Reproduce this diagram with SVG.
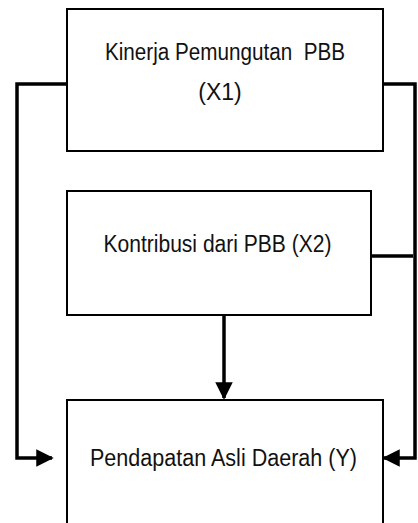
<svg xmlns="http://www.w3.org/2000/svg" width="418" height="523" viewBox="0 0 418 523">
<style>
.box{fill:#fff;stroke:#000;stroke-width:2}
.lbl{font-family:"Liberation Sans",Arial,sans-serif;font-size:23px;fill:#111;text-anchor:middle}
.con{fill:none;stroke:#000;stroke-width:3.5}
</style>
<defs>
<marker id="ah" markerWidth="5" markerHeight="5" refX="4.5" refY="2.5" orient="auto" markerUnits="strokeWidth">
<path d="M0,0 L5,2.5 L0,5 Z" fill="#000"/>
</marker>
</defs>
<g id="connectors">
<polyline class="con" points="67,84 17,84 17,458 52,458" marker-end="url(#ah)"/>
<polyline class="con" points="383,84 415,84 415,458 384,458" marker-end="url(#ah)"/>
<line class="con" x1="368" y1="256" x2="413" y2="256"/>
<line class="con" x1="224" y1="315" x2="224" y2="398" marker-end="url(#ah)"/>
</g>
<g id="node-x1">
<rect class="box" x="67" y="9" width="316" height="142"/>
<text class="lbl" x="225" y="60" textLength="240" lengthAdjust="spacingAndGlyphs">Kinerja Pemungutan&#160; PBB</text>
<text class="lbl" x="220" y="100">(X1)</text>
</g>
<g id="node-x2">
<rect class="box" x="67" y="191" width="304" height="124"/>
<text class="lbl" x="217.5" y="252" textLength="228" lengthAdjust="spacingAndGlyphs">Kontribusi dari PBB (X2)</text>
</g>
<g id="node-y">
<path class="box" d="M67,530 L67,400 L383,400 L383,530"/>
<text class="lbl" x="223.5" y="466" textLength="267" lengthAdjust="spacingAndGlyphs">Pendapatan Asli Daerah (Y)</text>
</g>
</svg>
